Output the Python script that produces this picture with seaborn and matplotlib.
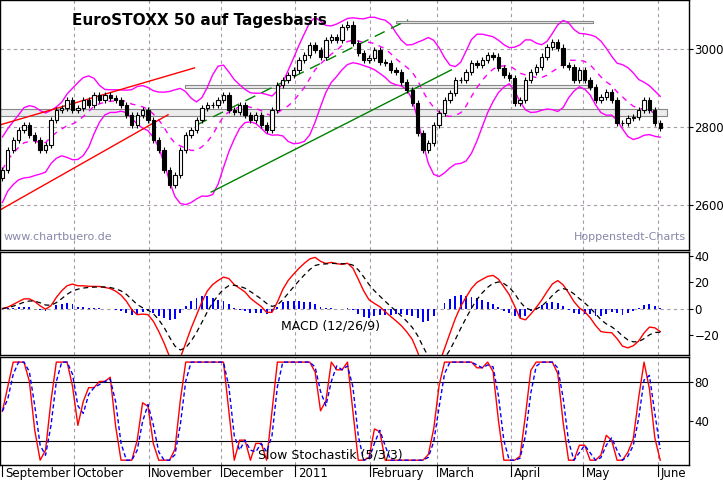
import numpy as np
import pandas as pd
import matplotlib
matplotlib.use("Agg")
import matplotlib.pyplot as plt
import seaborn as sns

closes = [2690, 2741, 2767, 2792, 2805, 2780, 2767, 2741, 2754, 2818, 2844, 2849, 2869, 2844,
          2849, 2869, 2856, 2882, 2869, 2882, 2874, 2869, 2856, 2831, 2805, 2831, 2844, 2818,
          2767, 2741, 2690, 2651, 2677, 2741, 2780, 2792, 2818, 2849, 2856, 2856, 2869, 2882,
          2844, 2838, 2856, 2831, 2818, 2831, 2805, 2792, 2844, 2908, 2921, 2933, 2946, 2972,
          2985, 3010, 2997, 2980, 3023, 3031, 3023, 3056, 3062, 3015, 2990, 2972, 2977, 2997,
          2967, 2964, 2946, 2941, 2915, 2895, 2862, 2785, 2741, 2759, 2805, 2836, 2869, 2887,
          2921, 2921, 2941, 2964, 2959, 2972, 2985, 2980, 2951, 2933, 2926, 2862, 2869, 2921,
          2941, 2954, 2980, 3005, 3018, 3003, 2959, 2954, 2921, 2946, 2921, 2903, 2869, 2877,
          2890, 2869, 2810, 2810, 2823, 2826, 2844, 2869, 2844, 2810, 2797]
start_date, end_date = "2010-09-01", "2011-06-02"
month_labels = ["September", "October", "November", "December", "2011", "February",
                "March", "April", "May", "June"]
month_starts = ["2010-09-01", "2010-10-01", "2010-11-01", "2010-12-01", "2011-01-01",
                "2011-02-01", "2011-03-01", "2011-04-01", "2011-05-01", "2011-06-01"]
red_upper = (["2010-08-31", "2010-11-20"], [2805, 2951])
red_lower = (["2010-08-31", "2010-11-09"], [2587, 2831])
green_lower = (["2010-11-27", "2011-03-07"], [2633, 2946])
green_upper = (["2010-11-21", "2011-02-17"], [2805, 3074])
boxes = [("2011-02-12", "2011-05-05", 3065, 3070),
         ("2010-11-16", "2011-05-04", 2900, 2908),
         ("2010-08-31", "2011-06-05", 2828, 2846)]

dates = pd.date_range(start_date, end_date, periods=len(closes))
df = pd.DataFrame({"date": dates, "close": closes})
df["open"] = df["close"].shift(1).fillna(df["close"].iloc[0] - 20)
c = df["close"]
df["mid"] = c.rolling(9, min_periods=1).mean()
sd = c.rolling(9, min_periods=2).std().fillna(40)
sd = sd.rolling(3, min_periods=1).mean()
df["up"] = df["mid"] + 2.1 * sd
df["lo"] = df["mid"] - 2.1 * sd
macd = c.ewm(span=6).mean() - c.ewm(span=12).mean()
macd = macd.rolling(2, min_periods=1).mean()
sig = macd.ewm(span=5).mean()
df["macd"], df["sig"], df["hist"] = macd, sig, (macd - sig) * 0.6
hh, ll = c.rolling(5, min_periods=1).max(), c.rolling(5, min_periods=1).min()
k = (100 * (c - ll) / (hh - ll).replace(0, np.nan)).fillna(50)
df["k"] = k.rolling(2, min_periods=1).mean()
df["d"] = df["k"].rolling(2, min_periods=1).mean()

fig = plt.figure(figsize=(7.23, 4.86), dpi=100)
W = 0.953
axm = fig.add_axes([0.0, 0.486, W, 0.514])
axc = fig.add_axes([0.0, 0.27, W, 0.212])
axs = fig.add_axes([0.0, 0.043, W, 0.222])
xlim = (pd.Timestamp("2010-08-31"), pd.Timestamp("2011-06-14"))
ms = pd.to_datetime(month_starts)
for ax in (axm, axc, axs):
    ax.set_xlim(*xlim)
    ax.yaxis.tick_right()
    ax.tick_params(axis="y", labelsize=8.5, direction="out", length=3, pad=1)
    for x in ms[1:]:
        ax.axvline(x, color="#a89aa8", ls=(0, (3, 3)), lw=0.8, zorder=0)
    ax.set_xticks([])
    for s in ax.spines.values():
        s.set_linewidth(1)

# main
axm.set_ylim(2485, 3125)
axm.set_yticks([2600, 2800, 3000])
for y in [2600, 2800, 3000]:
    axm.axhline(y, color="#a89aa8", ls=(0, (3, 3)), lw=0.8, zorder=0)
for d0, d1, y0, y1 in boxes:
    axm.fill_between([pd.Timestamp(d0), pd.Timestamp(d1)], y0, y1, facecolor="#ececec",
                     edgecolor="#888888", lw=0.8, zorder=1)
sns.lineplot(data=df, x="date", y="up", ax=axm, color="#ff00ff", lw=1)
sns.lineplot(data=df, x="date", y="lo", ax=axm, color="#ff00ff", lw=1)
sns.lineplot(data=df, x="date", y="mid", ax=axm, color="#ff00ff", lw=1, ls=(0, (4, 4)))
for (dd, vv), col, ls in [(red_upper, "red", "-"), (red_lower, "red", "-"),
                          (green_lower, "green", "-"), (green_upper, "green", (0, (8, 5)))]:
    axm.plot(pd.to_datetime(dd), vv, color=col, ls=ls, lw=1)
up = df["close"] >= df["open"]
axm.vlines(df["date"], df[["open", "close"]].min(axis=1) - 8,
           df[["open", "close"]].max(axis=1) + 8, color="black", lw=0.8, zorder=2)
axm.bar(df["date"], df["close"] - df["open"], bottom=df["open"], width=1.4,
        color=np.where(up, "white", "black"), edgecolor="black", lw=0.8, zorder=3)
axm.set_xlabel(""); axm.set_ylabel("")
axm.text(0.105, 0.9, "EuroSTOXX 50 auf Tagesbasis", transform=axm.transAxes,
         fontsize=11, fontweight="bold")
axm.text(0.005, 0.04, "www.chartbuero.de", transform=axm.transAxes, fontsize=8, color="#8888aa")
axm.text(0.995, 0.04, "Hoppenstedt-Charts", transform=axm.transAxes, fontsize=8,
         color="#8888aa", ha="right")

# MACD
axc.set_ylim(-35, 43)
axc.set_yticks([-20, 0, 20, 40])
axc.axhline(0, color="#a89aa8", ls=(0, (3, 3)), lw=0.8, zorder=0)
axc.bar(df["date"], df["hist"], width=0.8, color="blue", zorder=2)
sns.lineplot(data=df, x="date", y="macd", ax=axc, color="red", lw=1)
sns.lineplot(data=df, x="date", y="sig", ax=axc, color="black", lw=0.9, ls=(0, (4, 3)))
axc.set_xlabel(""); axc.set_ylabel("")
axc.text(0.48, 0.25, "MACD (12/26/9)", transform=axc.transAxes, fontsize=9, ha="center")

# Stochastic
axs.set_ylim(-5, 105)
axs.set_yticks([40, 80])
for y in [20, 80]:
    axs.axhline(y, color="black", lw=0.8)
sns.lineplot(data=df, x="date", y="k", ax=axs, color="red", lw=1)
sns.lineplot(data=df, x="date", y="d", ax=axs, color="blue", lw=1, ls=(0, (3, 2)))
axs.set_xlabel(""); axs.set_ylabel("")
axs.text(0.48, 0.06, "Slow Stochastik (5/3/3)", transform=axs.transAxes, fontsize=9, ha="center")
for x, lab in zip(ms, month_labels):
    axs.text(x + pd.Timedelta(days=1), -0.02, lab, transform=axs.get_xaxis_transform(),
             fontsize=8.5, va="top")
    axs.axvline(x, ymin=-0.1, ymax=0, color="black", lw=0.8, clip_on=False)

fig.savefig("out.png", dpi=100)
